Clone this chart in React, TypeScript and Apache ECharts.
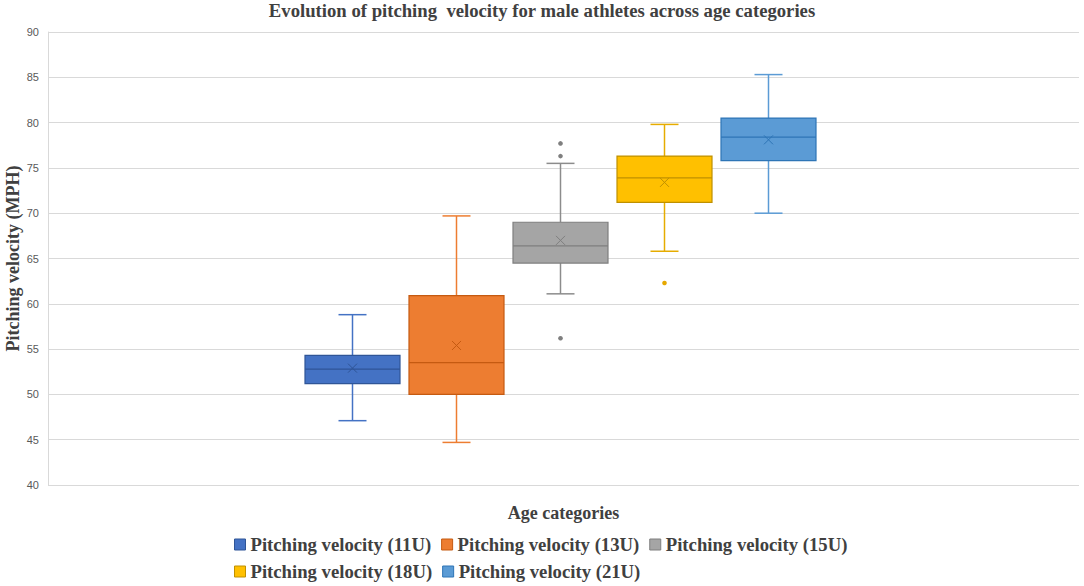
import React, { useEffect, useRef } from "react";
import * as echarts from "echarts";

const seriesNames = [
  "Pitching velocity (11U)",
  "Pitching velocity (13U)",
  "Pitching velocity (15U)",
  "Pitching velocity (18U)",
  "Pitching velocity (21U)",
];
const whiskerLow = [47.1, 44.7, 61.1, 65.8, 70.0];
const quartile1 = [51.2, 50.0, 64.5, 71.2, 75.8];
const medians = [52.8, 53.5, 66.4, 73.9, 78.4];
const quartile3 = [54.3, 60.9, 69.0, 76.3, 80.5];
const whiskerHigh = [58.8, 69.7, 75.5, 79.8, 85.3];
const means = [52.9, 55.4, 67.0, 73.4, 78.1];
const outliers: number[][] = [[], [], [56.2, 76.3, 77.7], [62.3], []];
const yTicks = { min: 40, max: 90, interval: 5 };

const fills = ["#4472C4", "#ED7D31", "#A5A5A5", "#FFC000", "#5B9BD5"];
const borders = ["#2F5597", "#C55A11", "#7F7F7F", "#BF9000", "#2E75B6"];
const whiskerColors = ["#4472C4", "#ED7D31", "#8C8C8C", "#E6AC00", "#5B9BD5"];

const SERIF = "'Liberation Serif', 'Times New Roman', serif";

export default function App() {
  const ref = useRef<HTMLDivElement>(null);
  useEffect(() => {
    if (!ref.current) return;
    const chart = echarts.init(ref.current, undefined, { renderer: "svg" });
    const spacing = 104;
    const boxW = 95;
    const capW = 28;

    const series = seriesNames.map((name, i) => ({
      name,
      type: "custom",
      itemStyle: { color: fills[i], borderColor: borders[i] },
      data: [[0, whiskerLow[i], quartile1[i], medians[i], quartile3[i], whiskerHigh[i], means[i]]],
      renderItem: (params: any, api: any) => {
        const si = params.seriesIndex;
        const base = api.coord([api.value(0), api.value(3)]);
        const cx = base[0] + (si - 2) * spacing - 3;
        const y = (k: number) => api.coord([api.value(0), api.value(k)])[1];
        const yLow = y(1), yQ1 = y(2), yMed = y(3), yQ3 = y(4), yHigh = y(5), yMean = y(6);
        const wStyle = { stroke: whiskerColors[si], lineWidth: 1.5 };
        const children: any[] = [
          { type: "line", shape: { x1: cx, y1: yLow, x2: cx, y2: yQ1 }, style: wStyle },
          { type: "line", shape: { x1: cx, y1: yQ3, x2: cx, y2: yHigh }, style: wStyle },
          { type: "line", shape: { x1: cx - capW / 2, y1: yLow, x2: cx + capW / 2, y2: yLow }, style: wStyle },
          { type: "line", shape: { x1: cx - capW / 2, y1: yHigh, x2: cx + capW / 2, y2: yHigh }, style: wStyle },
          {
            type: "rect",
            shape: { x: cx - boxW / 2, y: yQ3, width: boxW, height: yQ1 - yQ3 },
            style: { fill: fills[si], stroke: borders[si], lineWidth: 1.2 },
          },
          {
            type: "line",
            shape: { x1: cx - boxW / 2, y1: yMed, x2: cx + boxW / 2, y2: yMed },
            style: { stroke: borders[si], lineWidth: 1.2 },
          },
          {
            type: "line",
            shape: { x1: cx - 4.5, y1: yMean - 4.5, x2: cx + 4.5, y2: yMean + 4.5 },
            style: { stroke: borders[si], lineWidth: 1 },
          },
          {
            type: "line",
            shape: { x1: cx - 4.5, y1: yMean + 4.5, x2: cx + 4.5, y2: yMean - 4.5 },
            style: { stroke: borders[si], lineWidth: 1 },
          },
        ];
        outliers[si].forEach((v) => {
          const p = api.coord([api.value(0), v]);
          children.push({
            type: "circle",
            shape: { cx, cy: p[1], r: 2.3 },
            style: { fill: si === 3 ? "#E6A800" : "#7F7F7F" },
          });
        });
        return { type: "group", children };
      },
    }));

    const legendText = { fontFamily: SERIF, fontWeight: "bold", fontSize: 18.7, color: "#404040" };
    const legendItems = seriesNames.map((n, i) => ({
      name: n,
      itemStyle: { color: fills[i], borderColor: borders[i], borderWidth: 1 },
    }));
    const legendBase = {
      left: 234,
      padding: 0,
      icon: "rect",
      itemWidth: 11,
      itemHeight: 11,
      itemGap: 10,
      textStyle: legendText,
    };

    chart.setOption({
      animation: false,
      backgroundColor: "#ffffff",
      title: {
        text: "Evolution of pitching  velocity for male athletes across age categories",
        left: "center",
        top: 1,
        padding: 0,
        textStyle: { fontFamily: SERIF, fontWeight: "bold", fontSize: 18.7, color: "#404040" },
      },
      grid: { left: 48, right: 5, top: 32, bottom: 101, containLabel: false, outerBoundsMode: "none" },
      xAxis: {
        type: "category",
        data: [""],
        name: "Age categories",
        nameLocation: "middle",
        nameGap: 19,
        nameTextStyle: { fontFamily: SERIF, fontWeight: "bold", fontSize: 18, color: "#404040" },
        axisLine: { show: false },
        axisTick: { show: false },
        axisLabel: { show: false },
      },
      yAxis: {
        type: "value",
        min: yTicks.min,
        max: yTicks.max,
        interval: yTicks.interval,
        name: "Pitching velocity (MPH)",
        nameLocation: "middle",
        nameGap: 26,
        nameMoveOverlap: false,
        nameTextStyle: { fontFamily: SERIF, fontWeight: "bold", fontSize: 18, color: "#404040" },
        axisLine: { show: true, lineStyle: { color: "#D9D9D9", width: 1 } },
        axisTick: { show: false },
        axisLabel: { margin: 9, fontFamily: "'Liberation Sans', Arial, sans-serif", fontSize: 11, color: "#595959" },
        splitLine: { show: true, lineStyle: { color: "#D9D9D9", width: 1 } },
      },
      legend: [
        { ...legendBase, top: 535, data: legendItems.slice(0, 3) },
        { ...legendBase, top: 562, data: legendItems.slice(3) },
      ],
      series,
    });
    return () => chart.dispose();
  }, []);
  return (
    <div
      ref={ref}
      style={{ position: "absolute", left: 0, top: 0, width: 1084, height: 586 }}
    />
  );
}
